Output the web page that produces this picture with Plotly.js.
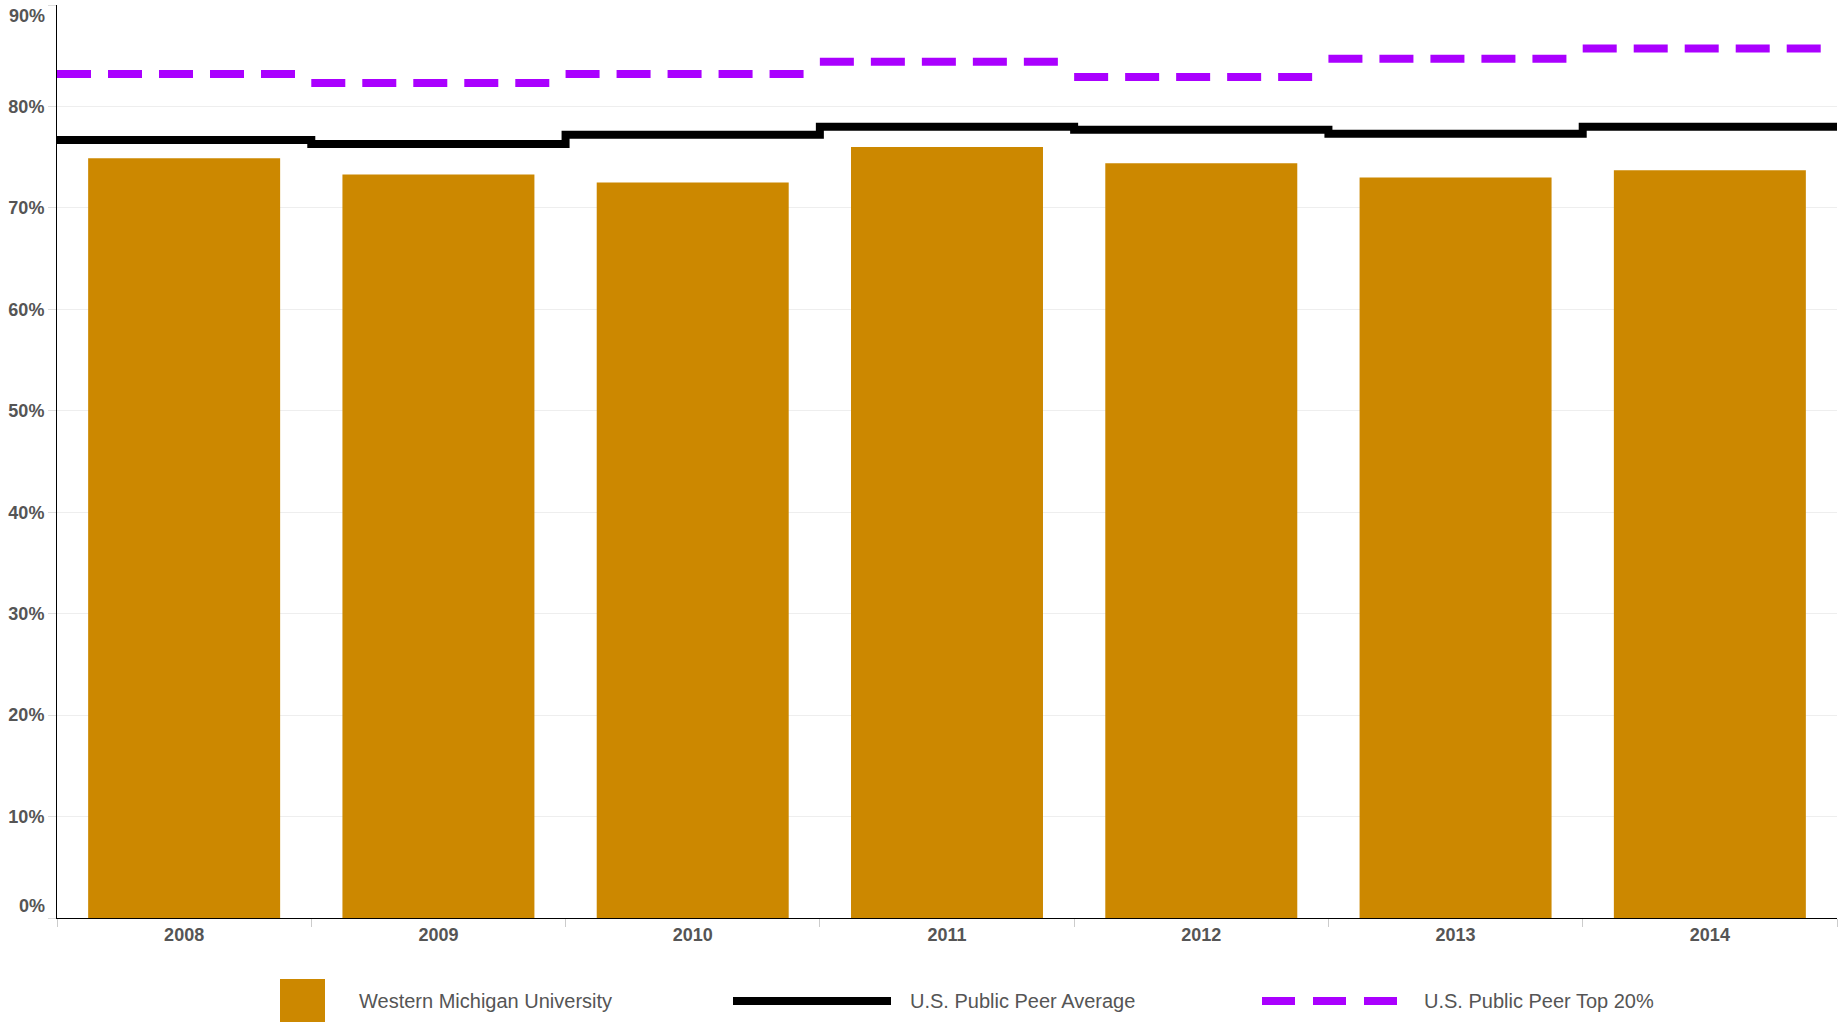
<!DOCTYPE html>
<html>
<head>
<meta charset="utf-8">
<script src="https://cdn.plot.ly/plotly-3.0.1.min.js"></script>
<style>
  html, body { margin: 0; padding: 0; background: #fff; }
  #chart { width: 1847px; height: 1022px; }
</style>
</head>
<body>
<div id="chart"></div>
<script>
// ---- Data ----
const years = ["2008", "2009", "2010", "2011", "2012", "2013", "2014"];
const wmu = [74.9, 73.3, 72.5, 76.0, 74.4, 73.0, 73.7];          // Western Michigan University (%)
const peerAverage = [76.7, 76.3, 77.2, 78.0, 77.7, 77.3, 78.0];  // U.S. Public Peer Average (%)
const peerTop20 = [83.2, 82.3, 83.2, 84.4, 82.9, 84.7, 85.7];    // U.S. Public Peer Top 20% (%)
const seriesNames = ["Western Michigan University", "U.S. Public Peer Average", "U.S. Public Peer Top 20%"];
const yTickVals = [0, 10, 20, 30, 40, 50, 60, 70, 80, 90];
const yTickLabels = ["0%", "10%", "20%", "30%", "40%", "50%", "60%", "70%", "80%", "90%"];

// ---- Colours / fonts ----
const GOLD = "#cc8800", PURPLE = "#aa00ff", BLACK = "#000000";
const FONT = "Liberation Sans, Arial, sans-serif";
const TEXT = "#555555";

// ---- Layout geometry ----
const W = 1847, H = 1022;
const M = { l: 57, r: 10, t: 5, b: 104 };
const plotW = W - M.l - M.r, plotH = H - M.t - M.b;
const px = X => (X - M.l) / plotW;
const py = Y => (M.t + plotH - Y) / plotH;

// Step line for the peer average: one level per category, spanning the full category
const avgX = peerAverage.map((_, i) => i - 0.5).concat([peerAverage.length - 0.5]);
const avgY = peerAverage.concat([peerAverage[peerAverage.length - 1]]);

// Top 20%: separate horizontal segment per category (dash pattern restarts each year)
const topX = [], topY = [];
peerTop20.forEach((v, i) => { topX.push(i - 0.5, i + 0.5, null); topY.push(v, v, null); });

const traces = [
  { type: "bar", x: years, y: wmu, name: seriesNames[0], marker: { color: GOLD },
    xaxis: "x", yaxis: "y", showlegend: false, hoverinfo: "x+y" },
  { type: "scatter", mode: "lines", x: avgX, y: avgY, name: seriesNames[1],
    line: { color: BLACK, width: 8, shape: "hv" }, xaxis: "x2", yaxis: "y",
    showlegend: false, hoverinfo: "skip" },
  { type: "scatter", mode: "lines", x: topX, y: topY, name: seriesNames[2], connectgaps: false,
    line: { color: PURPLE, width: 8, dash: "34px,17px" }, xaxis: "x2", yaxis: "y",
    showlegend: false, hoverinfo: "skip" }
];

// Custom legend (below the plot)
const legY = py(1001);
const shapes = [
  { type: "rect", xref: "paper", yref: "paper", x0: px(280), x1: px(325), y0: py(1024), y1: py(979),
    fillcolor: GOLD, line: { width: 0 } },
  { type: "line", xref: "paper", yref: "paper", x0: px(733), x1: px(891), y0: legY, y1: legY,
    line: { color: BLACK, width: 8 } },
  { type: "line", xref: "paper", yref: "paper", x0: px(1262), x1: px(1399), y0: legY, y1: legY,
    line: { color: PURPLE, width: 8, dash: "33px,18px" } }
];
const legTextX = [357, 908, 1422];
const annotations = seriesNames.map((n, i) => ({
  xref: "paper", yref: "paper", x: px(legTextX[i]), y: legY, xanchor: "left", yanchor: "middle",
  text: n, showarrow: false, font: { family: FONT, size: 20, color: TEXT }
}));
// The extreme tick labels sit inside the plot band in the reference (bottom one raised, top one lowered)
const topIdx = yTickLabels.length - 1;
const tickFont = { family: FONT, size: 18, color: TEXT, weight: "bold" };
annotations.push({
  xref: "paper", yref: "paper", x: px(47), y: py(16), xanchor: "right", yanchor: "middle",
  text: yTickLabels[topIdx], showarrow: false, font: tickFont
});
annotations.push({
  xref: "paper", yref: "paper", x: px(47), y: py(905.5), xanchor: "right", yanchor: "middle",
  text: yTickLabels[0], showarrow: false, font: tickFont
});
const yTickText = yTickLabels.map((t, i) => (i === topIdx || i === 0 ? "" : t));

const layout = {
  width: W, height: H,
  margin: M,
  paper_bgcolor: "#ffffff", plot_bgcolor: "#ffffff",
  showlegend: false,
  bargap: 0.245,
  xaxis: {
    type: "category", range: [-0.5, years.length - 0.5],
    tickson: "boundaries", ticks: "outside", ticklen: 8, tickcolor: "#cccccc", tickwidth: 1,
    showline: true, linecolor: BLACK, linewidth: 1.3, showgrid: false, zeroline: false,
    tickfont: tickFont,
    automargin: false, fixedrange: true
  },
  xaxis2: {
    overlaying: "x", type: "linear", range: [-0.5, years.length - 0.5],
    visible: false, showgrid: false, zeroline: false, fixedrange: true
  },
  yaxis: {
    range: [0, 90], tickmode: "array", tickvals: yTickVals, ticktext: yTickText,
    ticks: "outside", ticklen: 8, tickcolor: "#dddddd", tickwidth: 1,
    showline: true, linecolor: BLACK, linewidth: 1,
    showgrid: true, gridcolor: "#eeeeee", gridwidth: 1, zeroline: false,
    tickfont: tickFont,
    ticklabeloverflow: "allow",
    automargin: false, fixedrange: true
  },
  shapes: shapes,
  annotations: annotations,
  font: { family: FONT, color: TEXT }
};

Plotly.newPlot("chart", traces, layout, { displayModeBar: false, staticPlot: true });
</script>
</body>
</html>
